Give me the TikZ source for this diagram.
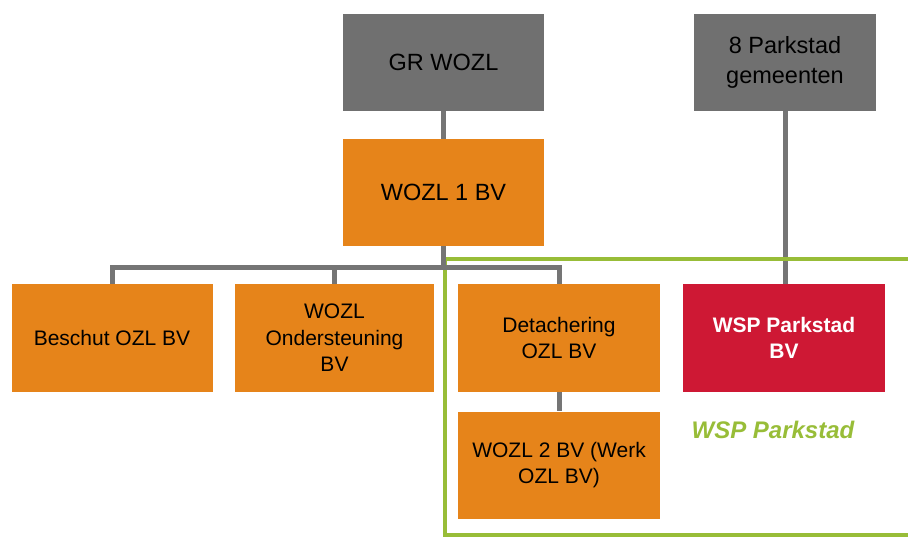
\documentclass[tikz,border=0pt]{standalone}
\usepackage{fontspec}
\setmainfont{Liberation Sans}
\definecolor{boxgray}{HTML}{707070}
\definecolor{linegray}{HTML}{757575}
\definecolor{orgbox}{HTML}{E6841A}
\definecolor{wspred}{HTML}{CE1834}
\definecolor{wspgreen}{HTML}{98BD38}
\tikzset{
  orgnode/.style={draw=none, inner sep=0pt, align=center, text=black},
  graybox/.style={orgnode, fill=boxgray, font=\fontsize{23.5}{29.5}\selectfont},
  orangebox/.style={orgnode, fill=orgbox, font=\fontsize{21}{26.5}\selectfont},
  topbox/.style={orgnode, fill=orgbox, font=\fontsize{23.5}{29}\selectfont},
  redbox/.style={orgnode, fill=wspred, text=white, font=\fontsize{21}{26.5}\selectfont\bfseries},
  conn/.style={draw=linegray, line width=5pt},
  grline/.style={draw=wspgreen, line width=4pt}
}
\begin{document}
\begin{tikzpicture}[x=1pt,y=-1pt]
\useasboundingbox (0,0) rectangle (908,537);
\node[graybox, minimum width=201pt, minimum height=97pt] (gr) at (443.5,62.5) {GR WOZL};
\node[graybox, minimum width=182pt, minimum height=97pt] (park) at (785,62.5) {8 Parkstad\\gemeenten};
\node[topbox, minimum width=201pt, minimum height=107pt] (w1) at (443.5,192.5) {WOZL 1 BV};
\node[orangebox, minimum width=201pt, minimum height=108pt] (besch) at (112,338) {Beschut OZL BV};
\node[orangebox, minimum width=199pt, minimum height=108pt] (onder) at (334.5,338) {WOZL\\Ondersteuning\\BV};
\node[orangebox, minimum width=202pt, minimum height=108pt] (det) at (559,338) {Detachering\\OZL BV};
\node[redbox, minimum width=202pt, minimum height=108pt] (wsp) at (784,338) {WSP Parkstad\\BV};
\node[orangebox, minimum width=202pt, minimum height=107pt] (w2) at (559,465) {WOZL 2 BV (Werk\\OZL BV)};
\node[orgnode, text=wspgreen, font=\fontsize{24}{28}\selectfont\bfseries\itshape] (wsplabel) at (773,430) {WSP Parkstad};
% connector to WSP
\draw[conn] (park.south) -- (park.south |- wsp.north);
% green frame
\coordinate (gA) at (908,259);
\coordinate (gB) at (444.5,259);
\coordinate (gC) at (444.5,535);
\coordinate (gD) at (908,535);
\draw[grline] (gA) -- (gB) -- (gC) -- (gD);
% tree connectors
\coordinate (bar) at (443.5,268);
\draw[conn] (gr.south) -- (w1.north);
\draw[conn] (w1.south) -- (bar);
\draw[conn] (besch.north) |- (bar) -| (det.north);
\draw[conn] (onder.north) -- (onder.north |- bar);
\draw[conn] (det.south) -- (w2.north);
\end{tikzpicture}
\end{document}
